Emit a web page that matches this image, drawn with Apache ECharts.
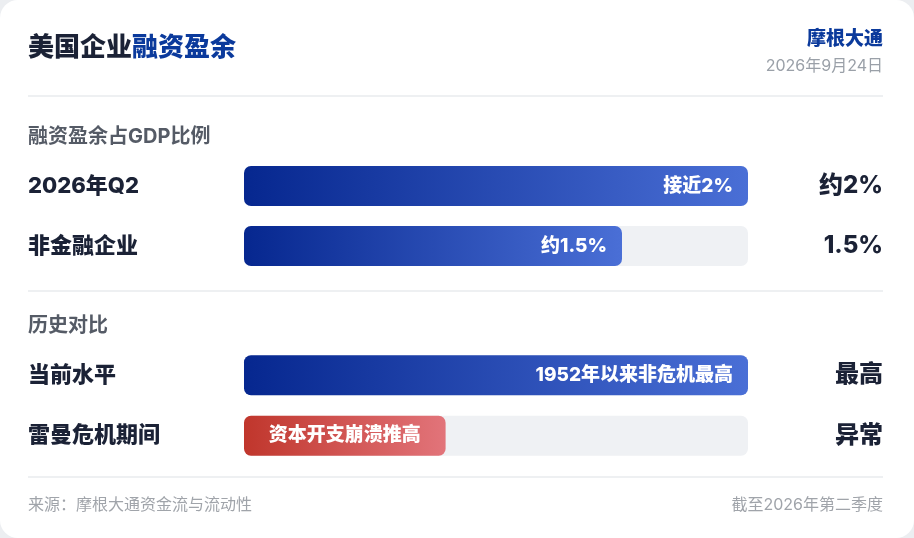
<!DOCTYPE html>
<html>
<head>
<meta charset="utf-8">
<script src="https://cdn.jsdelivr.net/npm/echarts@6/dist/echarts.min.js"></script>
<style>
  html, body { margin: 0; padding: 0; background: #eceef1; }
  #card { position: absolute; left: 0; top: 0; width: 914px; height: 538px; background: #ffffff; border-radius: 18px; overflow: hidden; }
  #chart { width: 914px; height: 538px; }
</style>
</head>
<body>
<div id="card"><div id="chart"></div></div>
<script>
// ---- data ----
const titleMain = '美国企业';
const titleAccent = '融资盈余';
const sourceName = '摩根大通';
const reportDate = '2026年9月24日';
const section1Title = '融资盈余占GDP比例';
const section2Title = '历史对比';
const footerLeft = '来源：摩根大通资金流与流动性';
const footerRight = '截至2026年第二季度';

const sec1Categories = ['2026年Q2', '非金融企业'];
const sec1Values = [2.0, 1.5];          // % of GDP
const sec1Max = 2.0;
const sec1BarLabels = ['接近2%', '约1.5%'];
const sec1RightLabels = ['约2%', '1.5%'];

const sec2Categories = ['当前水平', '雷曼危机期间'];
const sec2Values = [100, 40];           // relative level
const sec2Max = 100;
const sec2BarLabels = ['1952年以来非危机最高', '资本开支崩溃推高'];
const sec2RightLabels = ['最高', '异常'];

// ---- chart ----
const FONT = 'Inter, "Noto Sans CJK SC", sans-serif';
const DARK = '#1b2236';
const BLUE = '#0b3a9c';

const chart = echarts.init(document.getElementById('chart'), null, { renderer: 'canvas' });

const blueGrad = new echarts.graphic.LinearGradient(0, 0, 1, 0, [
  { offset: 0, color: '#06278f' },
  { offset: 1, color: '#4a6fd6' }
]);
const redGrad = new echarts.graphic.LinearGradient(0, 0, 1, 0, [
  { offset: 0, color: '#c0362c' },
  { offset: 1, color: '#e2747a' }
]);

function leftAxis(gridIndex, cats) {
  return {
    type: 'category', gridIndex, data: cats, inverse: true, position: 'left',
    axisLine: { show: false }, axisTick: { show: false },
    axisLabel: { align: 'left', margin: 216, color: DARK, fontSize: 22, fontWeight: 800, fontFamily: FONT }
  };
}
function rightAxis(gridIndex, labels) {
  return {
    type: 'category', gridIndex, data: labels, inverse: true, position: 'right',
    axisLine: { show: false }, axisTick: { show: false },
    axisLabel: { align: 'right', margin: 135, color: DARK, fontSize: 24, fontWeight: 800, fontFamily: FONT }
  };
}
function valAxis(gridIndex, max) {
  return { type: 'value', gridIndex, min: 0, max, show: false, splitLine: { show: false } };
}

const option = {
  backgroundColor: 'transparent',
  animation: false,
  grid: [
    { left: 244, right: 166, top: 156, height: 120 },
    { left: 244, right: 166, top: 345, height: 121 }
  ],
  xAxis: [valAxis(0, sec1Max), valAxis(1, sec2Max)],
  yAxis: [
    leftAxis(0, sec1Categories), rightAxis(0, sec1RightLabels),
    leftAxis(1, sec2Categories), rightAxis(1, sec2RightLabels)
  ],
  series: [
    {
      type: 'bar', xAxisIndex: 0, yAxisIndex: 0, barWidth: 40,
      data: sec1Values,
      showBackground: true,
      backgroundStyle: { color: '#eff1f4', borderRadius: 7 },
      itemStyle: { color: blueGrad, borderRadius: 7 },
      label: {
        show: true, position: 'insideRight', distance: 15,
        color: '#ffffff', fontSize: 19, fontWeight: 800, fontFamily: FONT,
        formatter: p => sec1BarLabels[p.dataIndex]
      }
    },
    {
      type: 'bar', xAxisIndex: 1, yAxisIndex: 2, barWidth: 40,
      data: sec2Values.map((v, i) => ({
        value: v,
        itemStyle: { color: i === 0 ? blueGrad : redGrad, borderRadius: 7 },
        label: { position: i === 0 ? 'insideRight' : 'inside' }
      })),
      showBackground: true,
      backgroundStyle: { color: '#eff1f4', borderRadius: 7 },
      label: {
        show: true, distance: 15,
        color: '#ffffff', fontSize: 19, fontWeight: 800, fontFamily: FONT,
        formatter: p => sec2BarLabels[p.dataIndex]
      }
    }
  ],
  graphic: [
    {
      type: 'text', left: 28, top: 35,
      style: {
        text: '{a|' + titleMain + '}{b|' + titleAccent + '}',
        rich: {
          a: { fontSize: 26, fontWeight: 800, fill: DARK, fontFamily: FONT },
          b: { fontSize: 26, fontWeight: 800, fill: BLUE, fontFamily: FONT }
        }
      }
    },
    {
      type: 'text', right: 31, top: 30,
      style: { text: sourceName, fontSize: 19, fontWeight: 800, fill: BLUE, fontFamily: FONT }
    },
    {
      type: 'text', right: 31, top: 58,
      style: { text: reportDate, fontSize: 16, fill: '#9aa0a8', fontFamily: FONT }
    },
    { type: 'rect', shape: { x: 28, y: 95, width: 855, height: 2 }, style: { fill: '#eef0f2' } },
    {
      type: 'text', left: 28, top: 127,
      style: { text: section1Title, fontSize: 20, fontWeight: 'bold', fill: '#555b66', fontFamily: FONT }
    },
    { type: 'rect', shape: { x: 28, y: 290, width: 855, height: 2 }, style: { fill: '#eef0f2' } },
    {
      type: 'text', left: 28, top: 316,
      style: { text: section2Title, fontSize: 20, fontWeight: 'bold', fill: '#555b66', fontFamily: FONT }
    },
    { type: 'rect', shape: { x: 28, y: 476, width: 855, height: 2 }, style: { fill: '#eef0f2' } },
    {
      type: 'text', left: 28, top: 497,
      style: { text: footerLeft, fontSize: 16, fill: '#a0a4aa', fontFamily: FONT }
    },
    {
      type: 'text', right: 31, top: 497,
      style: { text: footerRight, fontSize: 16, fill: '#a0a4aa', fontFamily: FONT }
    }
  ]
};
chart.setOption(option);
</script>
</body>
</html>
